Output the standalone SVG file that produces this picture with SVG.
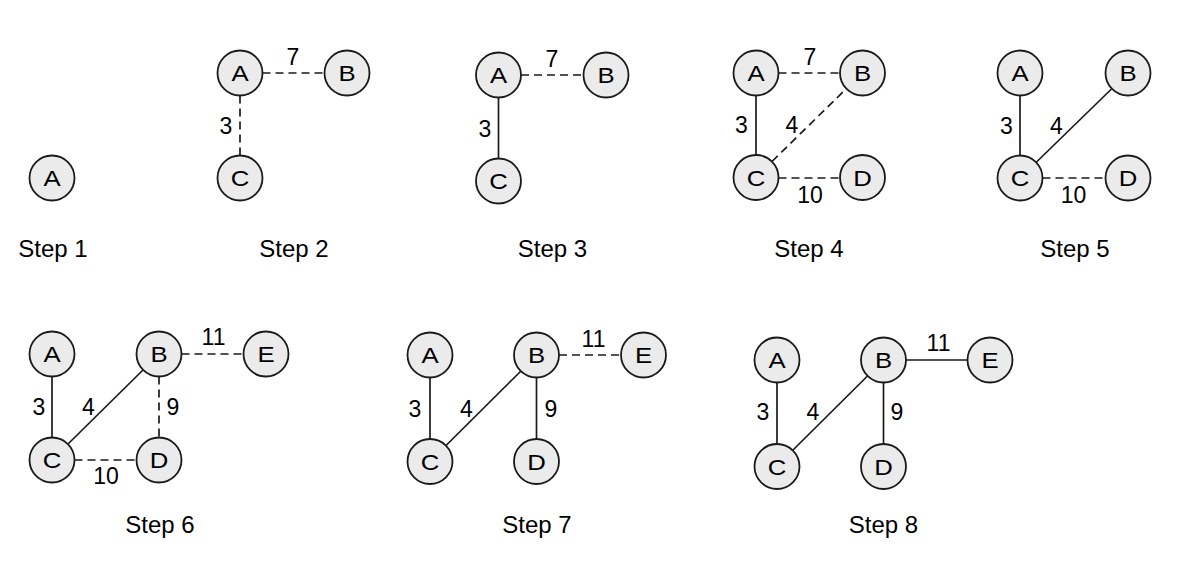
<svg xmlns="http://www.w3.org/2000/svg" width="1187" height="561" viewBox="0 0 1187 561">
<style>
  text { font-family: "Liberation Sans", Arial, sans-serif; fill: #000; }
  .node circle { fill: #ebebeb; stroke: #1a1a1a; stroke-width: 1.8; }
  .node text { font-size: 23px; text-anchor: middle; transform: scale(1.12, 1); }
  .e { stroke: #1a1a1a; stroke-width: 1.7; fill: none; }
  .d { stroke-dasharray: 8 5; }
  .lbl { font-size: 23px; text-anchor: middle; }
  .step { font-size: 24px; text-anchor: middle; }
</style>
<rect width="1187" height="561" fill="#fff"/>

<!-- Step 1 -->
<g id="step1">
  <g id="s1-A" class="node" transform="translate(52,178)"><circle r="22.5"/><text y="8.2">A</text></g>
  <text class="step" x="53" y="256.5">Step 1</text>
</g>

<!-- Step 2 -->
<g id="step2">
  <g id="s2-connectors">
    <line class="e d" x1="262.5" y1="73" x2="324.5" y2="73"/>
    <line class="e d" x1="240" y1="95.5" x2="240" y2="155.5"/>
    <text class="lbl" x="293" y="65">7</text>
    <text class="lbl" x="226" y="134">3</text>
  </g>
  <g id="s2-A" class="node" transform="translate(240,73)"><circle r="22.5"/><text y="8.2">A</text></g>
  <g id="s2-B" class="node" transform="translate(347,73)"><circle r="22.5"/><text y="8.2">B</text></g>
  <g id="s2-C" class="node" transform="translate(240,178)"><circle r="22.5"/><text y="8.2">C</text></g>
  <text class="step" x="294" y="256.5">Step 2</text>
</g>

<!-- Step 3 -->
<g id="step3">
  <g id="s3-connectors">
    <line class="e d" x1="521" y1="75" x2="583.5" y2="75"/>
    <line class="e" x1="498.5" y1="97.5" x2="498.5" y2="158.5"/>
    <text class="lbl" x="552" y="66.5">7</text>
    <text class="lbl" x="485" y="136.5">3</text>
  </g>
  <g id="s3-A" class="node" transform="translate(498.5,75)"><circle r="22.5"/><text y="8.2">A</text></g>
  <g id="s3-B" class="node" transform="translate(606,75)"><circle r="22.5"/><text y="8.2">B</text></g>
  <g id="s3-C" class="node" transform="translate(498.5,181)"><circle r="22.5"/><text y="8.2">C</text></g>
  <text class="step" x="552.5" y="256.5">Step 3</text>
</g>

<!-- Step 4 -->
<g id="step4">
  <g id="s4-connectors">
    <line class="e d" x1="778.5" y1="73" x2="840" y2="73"/>
    <line class="e" x1="756" y1="95.5" x2="756" y2="155"/>
    <line class="e d" x1="772" y1="161.5" x2="846.5" y2="88.5"/>
    <line class="e d" x1="778.5" y1="178" x2="840" y2="178"/>
    <text class="lbl" x="810" y="65">7</text>
    <text class="lbl" x="741.5" y="133">3</text>
    <text class="lbl" x="792" y="133">4</text>
    <text class="lbl" x="810" y="202.5">10</text>
  </g>
  <g id="s4-A" class="node" transform="translate(756,73)"><circle r="22.5"/><text y="8.2">A</text></g>
  <g id="s4-B" class="node" transform="translate(862.5,73)"><circle r="22.5"/><text y="8.2">B</text></g>
  <g id="s4-C" class="node" transform="translate(756,177.5)"><circle r="22.5"/><text y="8.2">C</text></g>
  <g id="s4-D" class="node" transform="translate(862.5,177.5)"><circle r="22.5"/><text y="8.2">D</text></g>
  <text class="step" x="809" y="256.5">Step 4</text>
</g>

<!-- Step 5 -->
<g id="step5">
  <g id="s5-connectors">
    <line class="e" x1="1020" y1="95.5" x2="1020" y2="155.5"/>
    <line class="e" x1="1036" y1="162.5" x2="1112" y2="88.5"/>
    <line class="e d" x1="1042.5" y1="178" x2="1105.5" y2="178"/>
    <text class="lbl" x="1006.5" y="133.5">3</text>
    <text class="lbl" x="1056.5" y="133.5">4</text>
    <text class="lbl" x="1073.5" y="202.5">10</text>
  </g>
  <g id="s5-A" class="node" transform="translate(1020,73)"><circle r="22.5"/><text y="8.2">A</text></g>
  <g id="s5-B" class="node" transform="translate(1128,73)"><circle r="22.5"/><text y="8.2">B</text></g>
  <g id="s5-C" class="node" transform="translate(1020,178)"><circle r="22.5"/><text y="8.2">C</text></g>
  <g id="s5-D" class="node" transform="translate(1128,178)"><circle r="22.5"/><text y="8.2">D</text></g>
  <text class="step" x="1075" y="256.5">Step 5</text>
</g>

<!-- Step 6 -->
<g id="step6">
  <g id="s6-connectors">
    <line class="e" x1="52" y1="376.5" x2="52" y2="437.5"/>
    <line class="e" x1="68" y1="444" x2="143" y2="370"/>
    <line class="e d" x1="181.5" y1="354" x2="243.5" y2="354"/>
    <line class="e d" x1="159" y1="376.5" x2="159" y2="437.5"/>
    <line class="e d" x1="74.5" y1="460" x2="136.5" y2="460"/>
    <text class="lbl" x="39" y="415">3</text>
    <text class="lbl" x="88.5" y="415">4</text>
    <text class="lbl" x="173" y="415">9</text>
    <text class="lbl" x="106" y="483.5">10</text>
    <text class="lbl" x="213.5" y="345">11</text>
  </g>
  <g id="s6-A" class="node" transform="translate(52,354)"><circle r="22.5"/><text y="8.2">A</text></g>
  <g id="s6-B" class="node" transform="translate(159,354)"><circle r="22.5"/><text y="8.2">B</text></g>
  <g id="s6-E" class="node" transform="translate(266,354)"><circle r="22.5"/><text y="8.2">E</text></g>
  <g id="s6-C" class="node" transform="translate(52,460)"><circle r="22.5"/><text y="8.2">C</text></g>
  <g id="s6-D" class="node" transform="translate(159,460)"><circle r="22.5"/><text y="8.2">D</text></g>
  <text class="step" x="160" y="533">Step 6</text>
</g>

<!-- Step 7 -->
<g id="step7">
  <g id="s7-connectors">
    <line class="e" x1="430" y1="377.5" x2="430" y2="439"/>
    <line class="e" x1="446" y1="445.5" x2="521" y2="371"/>
    <line class="e d" x1="559" y1="355" x2="621" y2="355"/>
    <line class="e" x1="536.5" y1="377.5" x2="536.5" y2="439"/>
    <text class="lbl" x="415" y="416.5">3</text>
    <text class="lbl" x="466.5" y="416.5">4</text>
    <text class="lbl" x="551" y="416.5">9</text>
    <text class="lbl" x="593.5" y="346.5">11</text>
  </g>
  <g id="s7-A" class="node" transform="translate(430,355)"><circle r="22.5"/><text y="8.2">A</text></g>
  <g id="s7-B" class="node" transform="translate(536.5,355)"><circle r="22.5"/><text y="8.2">B</text></g>
  <g id="s7-E" class="node" transform="translate(643.5,355)"><circle r="22.5"/><text y="8.2">E</text></g>
  <g id="s7-C" class="node" transform="translate(430,461.5)"><circle r="22.5"/><text y="8.2">C</text></g>
  <g id="s7-D" class="node" transform="translate(536.5,461.5)"><circle r="22.5"/><text y="8.2">D</text></g>
  <text class="step" x="537" y="533">Step 7</text>
</g>

<!-- Step 8 -->
<g id="step8">
  <g id="s8-connectors">
    <line class="e" x1="777" y1="382.5" x2="777" y2="444"/>
    <line class="e" x1="792.5" y1="450.5" x2="867.5" y2="376"/>
    <line class="e" x1="906" y1="360" x2="967.5" y2="360"/>
    <line class="e" x1="883.5" y1="382.5" x2="883.5" y2="444"/>
    <text class="lbl" x="763" y="420">3</text>
    <text class="lbl" x="813" y="420">4</text>
    <text class="lbl" x="897" y="420">9</text>
    <text class="lbl" x="938.5" y="351">11</text>
  </g>
  <g id="s8-A" class="node" transform="translate(777,360)"><circle r="22.5"/><text y="8.2">A</text></g>
  <g id="s8-B" class="node" transform="translate(883.5,360)"><circle r="22.5"/><text y="8.2">B</text></g>
  <g id="s8-E" class="node" transform="translate(990,360)"><circle r="22.5"/><text y="8.2">E</text></g>
  <g id="s8-C" class="node" transform="translate(777,466.5)"><circle r="22.5"/><text y="8.2">C</text></g>
  <g id="s8-D" class="node" transform="translate(883.5,466.5)"><circle r="22.5"/><text y="8.2">D</text></g>
  <text class="step" x="883.5" y="533">Step 8</text>
</g>
</svg>
